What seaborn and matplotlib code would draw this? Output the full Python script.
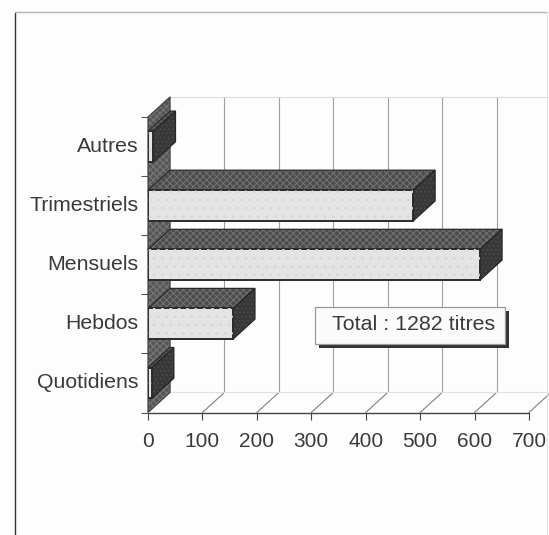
import matplotlib
matplotlib.use("Agg")
import matplotlib.pyplot as plt
from matplotlib.patches import Polygon, Rectangle
from matplotlib.lines import Line2D
from matplotlib.transforms import ScaledTranslation
import seaborn as sns
import pandas as pd

categories = ["Autres", "Trimestriels", "Mensuels", "Hebdos", "Quotidiens"]
values = [10, 487, 610, 156, 7]
xticks = [0, 100, 200, 300, 400, 500, 600, 700]
note = "Total : 1282 titres"

sns.set_theme(style="white")
plt.rcParams["font.family"] = ["Liberation Sans", "DejaVu Sans"]
plt.rcParams["hatch.linewidth"] = 0.7

W, H = 549, 535
fig = plt.figure(figsize=(W / 100, H / 100), dpi=100, facecolor="#fdfdfd")
ax = fig.add_axes([148 / W, 1 - 412.5 / H, 381 / W, 295.5 / H])
ax.set_facecolor("none")

df = pd.DataFrame({"cat": categories, "val": values})
sns.barplot(data=df, x="val", y="cat", order=categories, orient="h", width=0.52,
            color="#e4e4e4", saturation=1, edgecolor="#2a2a2a", linewidth=1.4, ax=ax, zorder=6)
ax.set_xlim(0, 700)
ax.set_ylim(4.5, -0.5)

DX, DY = 40.5, 0.34   # depth of the 3-D effect in data units
TOP, BOT = -0.5, 4.5


def face(pts, fill, hatch, hatch_col, edge, z, lw=0.9):
    ax.add_patch(Polygon(pts, closed=True, facecolor=fill, edgecolor="none", clip_on=False, zorder=z))
    ax.add_patch(Polygon(pts, closed=True, facecolor="none", edgecolor=hatch_col, hatch=hatch, lw=0,
                         clip_on=False, zorder=z))
    ax.add_patch(Polygon(pts, closed=True, facecolor="none", edgecolor=edge, lw=lw,
                         clip_on=False, zorder=z))


bars = [p for p in ax.patches if isinstance(p, Rectangle)]

# left wall
face([(0, BOT), (DX, BOT - DY), (DX, TOP - DY), (0, TOP)], "#565656", "xxxxx", "#7a7a7a", "#444444", 2)
# wall / floor grid
for t in xticks[1:]:
    ax.add_line(Line2D([t + DX, t + DX], [BOT - DY, TOP - DY], color="#a0a0a0", lw=0.8, clip_on=False, zorder=1))
    ax.add_line(Line2D([t, t + DX], [BOT, BOT - DY], color="#808080", lw=0.8, clip_on=False, zorder=1))
ax.add_line(Line2D([DX, 700 + DX], [TOP - DY, TOP - DY], color="#dddddd", lw=0.8, clip_on=False, zorder=1))
ax.add_line(Line2D([DX, 700 + DX], [BOT - DY, BOT - DY], color="#e0e0e0", lw=0.8, clip_on=False, zorder=1))
ax.add_line(Line2D([0, 700], [BOT, BOT], color="#444444", lw=1.0, clip_on=False, zorder=3))

# 3-D faces built from the bars seaborn drew
for k, bar in enumerate(bars):
    x1 = bar.get_width()
    y0, y1 = bar.get_y(), bar.get_y() + bar.get_height()
    z = 6 + k * 2
    face([(0, y0), (DX, y0 - DY), (x1 + DX, y0 - DY), (x1, y0)], "#4c4c4c", "xxxxx", "#747474", "#2a2a2a", z)
    face([(x1, y0), (x1 + DX, y0 - DY), (x1 + DX, y1 - DY), (x1, y1)], "#383838", "....", "#4c4c4c", "#262626", z)
    bar.set_zorder(z + 1)
    ax.add_patch(Polygon(bar.get_corners(), closed=True, facecolor="none", edgecolor="#d6d6d6",
                         hatch="..", lw=0, clip_on=False, zorder=z + 1))

# axes dressing
for s in ax.spines.values():
    s.set_visible(False)
ax.set_xlabel("")
ax.set_ylabel("")
ax.set_xticks(xticks)
ax.set_xticklabels([str(t) for t in xticks], fontsize=15, color="#3a3a3a")
ax.tick_params(axis="x", length=5, width=0.8, color="#444444", pad=9, bottom=True)
ax.tick_params(axis="y", which="major", length=0, pad=7, labelsize=15.3, labelcolor="#3a3a3a")
ax.set_yticks([-0.5, 0.5, 1.5, 2.5, 3.5, 4.5], minor=True)
ax.tick_params(axis="y", which="minor", length=5, width=0.8, color="#555555", left=True)
shift = ScaledTranslation(0, 2 / 100, fig.dpi_scale_trans)
for lab in ax.get_yticklabels():
    lab.set_transform(lab.get_transform() + shift)

# note box with shadow
tf = fig.transFigure
def fx(v): return v / W
def fy(v): return 1 - v / H
fig.add_artist(Rectangle((fx(319), fy(348)), 190 / W, 37 / H, transform=tf, facecolor="#333333", edgecolor="none", zorder=20))
fig.add_artist(Rectangle((fx(315), fy(344)), 190 / W, 37 / H, transform=tf, facecolor="#fbfbfb", edgecolor="#999999", lw=0.9, zorder=21))
fig.text(fx(414), fy(325), note, ha="center", va="center", fontsize=15.4, color="#3a3a3a", zorder=22)

# paper frame
fig.add_artist(Line2D([fx(15), fx(15)], [fy(13), fy(535)], transform=tf, color="#333333", lw=1.0))
fig.add_artist(Line2D([fx(15), fx(547)], [fy(12), fy(12)], transform=tf, color="#b5b5b5", lw=1.0))
fig.add_artist(Line2D([fx(547), fx(547)], [fy(12), fy(535)], transform=tf, color="#e2e2e2", lw=0.8))

fig.savefig("out.png", dpi=100, facecolor=fig.get_facecolor())
